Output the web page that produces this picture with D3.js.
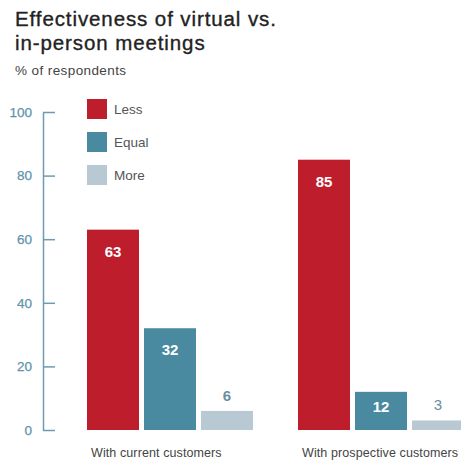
<!DOCTYPE html>
<html>
<head>
<meta charset="utf-8">
<script src="https://cdn.jsdelivr.net/npm/d3@7/dist/d3.min.js"></script>
<style>
  html, body { margin: 0; padding: 0; background: #fff; }
  svg { display: block; font-family: "Liberation Sans", Arial, sans-serif; }
</style>
</head>
<body>
<svg id="chart" width="461" height="462"></svg>
<script>
// Survey results: how effective virtual meetings are compared with in-person ones
const categories = ["With current customers", "With prospective customers"];
const seriesNames = ["Less", "Equal", "More"];
const lessValues = [63, 85];
const equalValues = [32, 12];
const moreValues = [6, 3];
const yTicks = [0, 20, 40, 60, 80, 100];
const titleLines = ["Effectiveness of virtual vs.", "in-person meetings"];

const colors = { Less: "#be1e2b", Equal: "#4a8aa1", More: "#b8c9d4" };
const seriesValues = { Less: lessValues, Equal: equalValues, More: moreValues };

const svg = d3.select("#chart");

// Title (two lines) and subtitle
svg.append("g").selectAll("text").data(titleLines).join("text")
  .attr("x", 15)
  .attr("y", (d, i) => 26 + i * 23.5)
  .attr("font-size", 20.5).attr("letter-spacing", 0.9)
  .attr("fill", "#222").attr("stroke", "#222").attr("stroke-width", 0.35)
  .text(d => d);

svg.append("text")
  .attr("x", 15).attr("y", 75)
  .attr("font-size", 13.5).attr("letter-spacing", 0.4)
  .attr("fill", "#444")
  .text("% of respondents");

// Scales
const y = d3.scaleLinear().domain([0, 100]).range([430, 112]);
const x0 = d3.scaleBand().domain(categories).range([87, 464])
  .paddingInner(45 / 211).paddingOuter(0);
const x1 = d3.scaleBand().domain(seriesNames).range([0, x0.bandwidth()])
  .paddingInner(5 / 57).paddingOuter(0);

// Y axis with ticks pointing into the plot
const axis = svg.append("g")
  .attr("transform", "translate(43,0)")
  .call(d3.axisLeft(y).tickValues(yTicks).tickSizeInner(-12).tickSizeOuter(0).tickPadding(11));
axis.select(".domain").attr("stroke", "#6f9bb0").attr("stroke-width", 1.5);
axis.selectAll(".tick line").attr("stroke", "#6f9bb0").attr("stroke-width", 1.5);
axis.selectAll(".tick text")
  .attr("fill", "#5f93ab").attr("font-size", 13.5)
  .attr("stroke", "#5f93ab").attr("stroke-width", 0.25)
  .attr("font-family", "\"Liberation Sans\", Arial, sans-serif");

// Bars
const rows = [];
categories.forEach((c, i) => {
  seriesNames.forEach(s => rows.push({ category: c, series: s, value: seriesValues[s][i] }));
});

const bar = svg.append("g").selectAll("g.bar").data(rows).join("g").attr("class", "bar")
  .attr("transform", d => `translate(${x0(d.category) + x1(d.series)},0)`);

bar.append("rect")
  .attr("x", 0)
  .attr("y", d => y(d.value))
  .attr("width", x1.bandwidth())
  .attr("height", d => y(0) - y(d.value))
  .attr("fill", d => colors[d.series]);

// Value labels: inside tall bars, above short ones
bar.append("text")
  .attr("x", x1.bandwidth() / 2)
  .attr("y", d => {
    const top = y(d.value), h = y(0) - top;
    if (d.value < 10) return top - 10;
    return Math.min(top + 22, top + h / 2 - 4) + 5;
  })
  .attr("text-anchor", "middle")
  .attr("font-size", 15)
  .attr("font-weight", d => d.value < 5 ? "normal" : "bold")
  .attr("fill", d => d.value < 10 ? "#6a8ea2" : "#fff")
  .text(d => d.value);

// Category labels
svg.append("g").selectAll("text").data(categories).join("text")
  .attr("x", d => x0(d) + 4)
  .attr("y", 457)
  .attr("font-size", 12.5)
  .attr("letter-spacing", 0.1)
  .attr("fill", "#444")
  .text(d => d);

// Legend
const legend = svg.append("g").selectAll("g").data(seriesNames).join("g")
  .attr("transform", (d, i) => `translate(87,${99 + i * 33})`);
legend.append("rect")
  .attr("width", 20).attr("height", 20)
  .attr("fill", d => colors[d]);
legend.append("text")
  .attr("x", 27).attr("y", 10).attr("dy", "0.35em")
  .attr("font-size", 13.5).attr("fill", "#555")
  .text(d => d);
</script>
</body>
</html>
